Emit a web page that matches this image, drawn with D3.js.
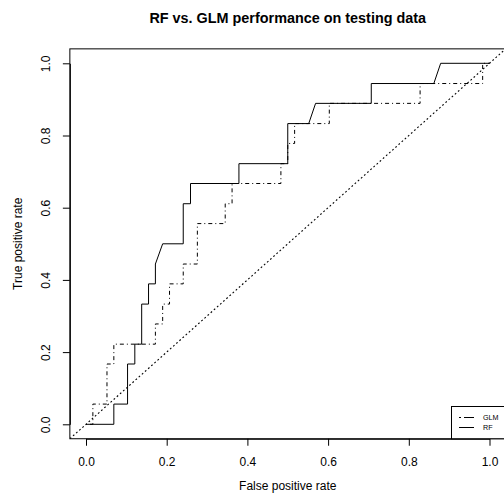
<!DOCTYPE html>
<html>
<head>
<meta charset="utf-8">
<script src="https://cdn.jsdelivr.net/npm/d3@7"></script>
<style>
  body { margin: 0; background: #fff; }
  svg { display: block; font-family: "Liberation Sans", Arial, Helvetica, sans-serif; }
</style>
</head>
<body>
<svg id="chart" width="504" height="498"></svg>
<script>
// ROC curves (18 positives, 58 negatives)

const rfFpr = [0, 0.069, 0.069, 0.103, 0.103, 0.121, 0.121, 0.138, 0.138, 0.155, 0.155, 0.172, 0.172, 0.190,
  0.241, 0.241, 0.259, 0.259, 0.379, 0.379, 0.5, 0.5, 0.552, 0.569, 0.707, 0.707, 0.862, 0.879, 1];
const rfTpr = [0, 0, 0.056, 0.056, 0.167, 0.167, 0.222, 0.222, 0.333, 0.333, 0.389, 0.389, 0.444, 0.5,
  0.5, 0.611, 0.611, 0.667, 0.667, 0.722, 0.722, 0.833, 0.833, 0.889, 0.889, 0.944, 0.944, 1, 1];

const glmFpr = [0, 0.017, 0.017, 0.052, 0.052, 0.069, 0.069, 0.172, 0.172, 0.190, 0.190, 0.207, 0.207,
  0.241, 0.241, 0.276, 0.276, 0.345, 0.345, 0.362, 0.362, 0.483, 0.483, 0.5, 0.5, 0.517, 0.517,
  0.603, 0.603, 0.828, 0.828, 0.983, 0.983, 1];
const glmTpr = [0, 0, 0.056, 0.056, 0.167, 0.167, 0.222, 0.222, 0.278, 0.278, 0.333, 0.333, 0.389,
  0.389, 0.444, 0.444, 0.556, 0.556, 0.611, 0.611, 0.667, 0.667, 0.722, 0.722, 0.778, 0.778, 0.833,
  0.833, 0.889, 0.889, 0.944, 0.944, 1, 1];

const diagonal = [-0.04, 1.04];
const tickVals = [0, 0.2, 0.4, 0.6, 0.8, 1];
const legendLabels = ['GLM', 'RF'];
const legendDash = ['2,3,10,20', null];

const svg = d3.select('#chart');

// plot region in pixels (R adds 4% each side)
let x = d3.scaleLinear().domain([0, 1]).range([86, 489.5]);
let y = d3.scaleLinear().domain([0, 1]).range([424.3, 63.3]);
const pLeft = x(-0.04), pRight = x(1.04), pTop = y(1.04), pBottom = y(-0.04);

svg.append('defs').append('clipPath').attr('id', 'clip')
  .append('rect')
  .attr('x', pLeft).attr('y', pTop)
  .attr('width', pRight - pLeft).attr('height', pBottom - pTop);

const plot = svg.append('g').attr('clip-path', 'url(#clip)');

let line = d3.line()
  .x(d => x(d[0]))
  .y(d => y(d[1]));

// chance line
plot.append('path')
  .datum(diagonal.map(v => [v, v]))
  .attr('d', line)
  .attr('fill', 'none')
  .attr('stroke', '#000')
  .attr('stroke-width', 1.1)
  .attr('stroke-dasharray', '1.8,2.4');

plot.append('path')
  .datum(glmFpr.map((v, i) => [v, glmTpr[i]]))
  .attr('d', line)
  .attr('fill', 'none')
  .attr('stroke', '#000')
  .attr('stroke-dasharray', '1,3,4,3');

plot.append('path')
  .datum(rfFpr.map((v, i) => [v, rfTpr[i]]))
  .attr('d', line)
  .attr('fill', 'none')
  .attr('stroke', '#000');

// axes
const xAxis = svg.append('g')
  .attr('transform', 'translate(0,' + pBottom + ')')
  .call(d3.axisBottom(x).tickValues(tickVals).tickFormat(d3.format('.1f')).tickSize(7).tickSizeOuter(0).tickPadding(12));
xAxis.attr('font-family', null);
xAxis.selectAll('text').attr('font-size', 12).attr('fill', '#000');

const yAxis = svg.append('g')
  .attr('transform', 'translate(' + pLeft + ',0)')
  .call(d3.axisLeft(y).tickValues(tickVals).tickFormat(d3.format('.1f')).tickSize(7).tickSizeOuter(0));
yAxis.attr('font-family', null);
yAxis.selectAll('text')
  .attr('font-size', 12)
  .attr('fill', '#000')
  .attr('text-anchor', 'middle')
  .attr('dy', null)
  .attr('x', null)
  .attr('transform', 'translate(-20,0) rotate(-90)');

// box around plot region
svg.append('rect')
  .attr('x', pLeft).attr('y', pTop)
  .attr('width', pRight - pLeft).attr('height', pBottom - pTop)
  .attr('fill', 'none')
  .attr('stroke', '#000');

// legend (bottomright)
const lg = svg.append('g');
lg.append('rect')
  .attr('x', 451.5).attr('y', 406.5)
  .attr('width', pRight - 451.5).attr('height', pBottom - 406.5)
  .attr('fill', '#fff')
  .attr('stroke', '#000');
legendLabels.forEach((lab, i) => {
  const ly = 417.5 + i * 10;
  lg.append('line')
    .attr('x1', 459).attr('x2', 474)
    .attr('y1', ly).attr('y2', ly)
    .attr('stroke', '#000')
    .attr('stroke-dasharray', legendDash[i]);
  lg.append('text')
    .attr('x', 483).attr('y', ly)
    .attr('dy', '0.35em')
    .attr('font-size', 7.2)
    .text(lab);
});

// titles
svg.append('text')
  .attr('x', (pLeft + pRight) / 2).attr('y', 23)
  .attr('text-anchor', 'middle')
  .attr('font-size', 14.4)
  .attr('font-weight', 'bold')
  .text('RF vs. GLM performance on testing data');

svg.append('text')
  .attr('x', (pLeft + pRight) / 2).attr('y', 490)
  .attr('text-anchor', 'middle')
  .attr('font-size', 12)
  .text('False positive rate');

svg.append('text')
  .attr('transform', 'translate(22,' + (pTop + pBottom) / 2 + ') rotate(-90)')
  .attr('text-anchor', 'middle')
  .attr('font-size', 12)
  .text('True positive rate');
</script>
</body>
</html>
